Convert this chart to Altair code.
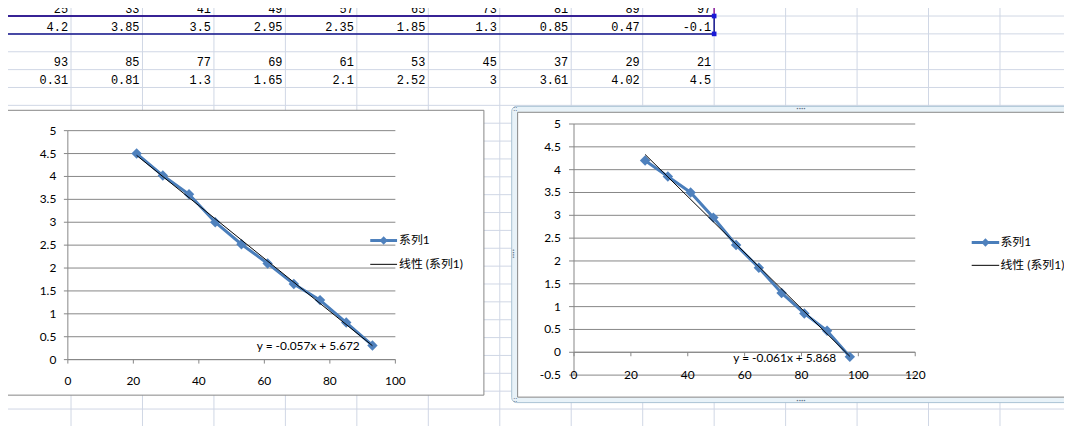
import altair as alt
import pandas as pd

# ---------------- values typed in the worksheet ----------------
x_b = [25, 33, 41, 49, 57, 65, 73, 81, 89, 97]
y_b = [4.2, 3.85, 3.5, 2.95, 2.35, 1.85, 1.3, 0.85, 0.47, -0.1]
x_a = [93, 85, 77, 69, 61, 53, 45, 37, 29, 21]
y_a = [0.31, 0.81, 1.3, 1.65, 2.1, 2.52, 3, 3.61, 4.02, 4.5]

# ---------------- axis tick values ----------------
x_ticks_a = [0, 20, 40, 60, 80, 100]
y_ticks_a = [0, 0.5, 1, 1.5, 2, 2.5, 3, 3.5, 4, 4.5, 5]
x_ticks_b = [0, 20, 40, 60, 80, 100, 120]
y_ticks_b = [-0.5, 0, 0.5, 1, 1.5, 2, 2.5, 3, 3.5, 4, 4.5, 5]

# ---------------- texts ----------------
legend_labels = ["系列1", "线性 (系列1)"]
equations = ["y = -0.057x + 5.672", "y = -0.061x + 5.868"]

UI_FONT = "Lato, 'Noto Sans CJK SC', sans-serif"
CELL_FONT = "'Liberation Mono', 'DejaVu Sans Mono', monospace"
GRID = "#868686"
SHEET_GRID = "#D0D7E5"
BLUE = "#4A7EBB"
MARK_BLUE = "#4F81BD"
HANDLE = "#5B7186"

one = pd.DataFrame({"a": [0]})

# ================= worksheet =================
scol = alt.Scale(domain=[0, 15], range=[-8.5, 1071.5], nice=False, zero=False)
srow = alt.Scale(domain=[0, 24], range=[-11.5, 420.5], nice=False, zero=False)

sheet_rows = [x_b, y_b, None, x_a, y_a]
cells = []
for r, vals in enumerate(sheet_rows):
    if vals is None:
        continue
    for c, v in enumerate(vals):
        cells.append({"c": c + 1, "r": r + 1, "t": f"{v:g}"})
cells = pd.DataFrame(cells)

vlines = alt.Chart(pd.DataFrame({"c": list(range(1, 15))})).mark_rule(
    color=SHEET_GRID, strokeWidth=1
).encode(
    x=alt.X("c:Q", scale=scol, axis=None),
    y=alt.YDatum(0, scale=srow, axis=None),
    y2=alt.Y2Datum(24),
)
hlines = alt.Chart(pd.DataFrame({"r": list(range(1, 24))})).mark_rule(
    color=SHEET_GRID, strokeWidth=1
).encode(
    y=alt.Y("r:Q", scale=srow, axis=None),
    x=alt.XDatum(0, scale=scol, axis=None),
    x2=alt.X2Datum(15),
)
cell_text = alt.Chart(cells).mark_text(
    font=CELL_FONT, fontSize=12, align="right", baseline="alphabetic",
    dx=-3, dy=-3.2, color="black"
).encode(
    x=alt.X("c:Q", scale=scol, axis=None),
    y=alt.Y("r:Q", scale=srow, axis=None),
    text="t:N",
)
purple_box = alt.Chart(one).mark_rect(
    fill=None, stroke="#8B1C9C", strokeWidth=1.5
).encode(
    x=alt.XDatum(0, scale=scol, axis=None), x2=alt.X2Datum(10),
    y=alt.YDatum(0, scale=srow, axis=None), y2=alt.Y2Datum(1),
)
blue_box = alt.Chart(one).mark_rect(
    fill=None, stroke="#14148C", strokeWidth=1.5
).encode(
    x=alt.XDatum(0, scale=scol, axis=None), x2=alt.X2Datum(10),
    y=alt.YDatum(1, scale=srow, axis=None), y2=alt.Y2Datum(2),
)
handles = alt.Chart(pd.DataFrame({"c": [0, 0, 10, 10], "r": [1, 2, 1, 2]})).mark_square(
    size=22, color="#1A1AD8", opacity=1
).encode(
    x=alt.X("c:Q", scale=scol, axis=None),
    y=alt.Y("r:Q", scale=srow, axis=None),
)
sheet = alt.layer(vlines, hlines, cell_text, purple_box, blue_box, handles)


# ================= chart panels =================
def legend_layers(x0, x1, xt, ys):
    layers = []
    layers.append(alt.Chart(one).mark_rule(color=BLUE, strokeWidth=3).encode(
        x=alt.value(x0), x2=alt.value(x1), y=alt.value(ys[0])))
    layers.append(alt.Chart(one).mark_point(
        shape="diamond", filled=True, size=70, color=MARK_BLUE, opacity=1
    ).encode(x=alt.value((x0 + x1) / 2), y=alt.value(ys[0])))
    layers.append(alt.Chart(one).mark_rule(color="black", strokeWidth=1).encode(
        x=alt.value(x0), x2=alt.value(x1), y=alt.value(ys[1])))
    for i, lab in enumerate(legend_labels):
        layers.append(alt.Chart(pd.DataFrame({"t": [lab]})).mark_text(
            font=UI_FONT, fontSize=12, align="left", baseline="middle", color="black"
        ).encode(x=alt.value(xt), y=alt.value(ys[i]), text="t:N"))
    return layers


def axis_layers(sx, sy, xticks, yticks, x_tick_len, y_tick_len,
                x_lab_anchor, x_lab_dy, y_lab_dx):
    """Axis lines, ticks and labels drawn through the panel's own scales."""
    xt = pd.DataFrame({"v": xticks, "t": [f"{v:g}" for v in xticks]})
    yt = pd.DataFrame({"v": yticks, "t": [f"{v:g}" for v in yticks]})
    x_dom = alt.Chart(one).mark_rule(color=GRID, strokeWidth=1).encode(
        x=alt.XDatum(xticks[0], scale=sx, axis=None), x2=alt.X2Datum(xticks[-1]),
        y=alt.YDatum(0, scale=sy, axis=None),
    )
    y_dom = alt.Chart(one).mark_rule(color=GRID, strokeWidth=1).encode(
        y=alt.YDatum(yticks[0], scale=sy, axis=None), y2=alt.Y2Datum(yticks[-1]),
        x=alt.XDatum(0, scale=sx, axis=None),
    )
    x_tk = alt.Chart(xt).mark_rule(color=GRID, strokeWidth=1, y2Offset=x_tick_len).encode(
        x=alt.X("v:Q", scale=sx, axis=None),
        y=alt.YDatum(0, scale=sy, axis=None), y2=alt.Y2Datum(0),
    )
    y_tk = alt.Chart(yt).mark_rule(color=GRID, strokeWidth=1, x2Offset=-y_tick_len).encode(
        y=alt.Y("v:Q", scale=sy, axis=None),
        x=alt.XDatum(0, scale=sx, axis=None), x2=alt.X2Datum(0),
    )
    x_lb = alt.Chart(xt).mark_text(
        font=UI_FONT, fontSize=12, align="center", baseline="middle",
        dy=x_lab_dy, color="black"
    ).encode(
        x=alt.X("v:Q", scale=sx, axis=None),
        y=alt.YDatum(x_lab_anchor, scale=sy, axis=None),
        text="t:N",
    )
    y_lb = alt.Chart(yt).mark_text(
        font=UI_FONT, fontSize=12, align="right", baseline="middle",
        dx=y_lab_dx, color="black"
    ).encode(
        y=alt.Y("v:Q", scale=sy, axis=None),
        x=alt.XDatum(0, scale=sx, axis=None),
        text="t:N",
    )
    return [x_dom, y_dom, x_tk, y_tk, x_lb, y_lb]


def panel(xv, yv, sx, sy, xticks, yticks, axis_kw, eq, eq_xy, frame_layers, leg):
    df = pd.DataFrame({"x": xv, "y": yv})
    grid = alt.Chart(pd.DataFrame({"v": yticks})).mark_rule(
        color=GRID, strokeWidth=1
    ).encode(
        y=alt.Y("v:Q", scale=sy, axis=None),
        x=alt.XDatum(xticks[0], scale=sx, axis=None),
        x2=alt.X2Datum(xticks[-1]),
    )
    line = alt.Chart(df).mark_line(color=BLUE, strokeWidth=3).encode(
        x=alt.X("x:Q", scale=sx, axis=None),
        y=alt.Y("y:Q", scale=sy, axis=None),
    )
    pts = alt.Chart(df).mark_point(
        shape="diamond", filled=True, size=110, color=MARK_BLUE, opacity=1
    ).encode(
        x=alt.X("x:Q", scale=sx, axis=None),
        y=alt.Y("y:Q", scale=sy, axis=None),
    )
    trend = alt.Chart(df).transform_regression("x", "y").mark_line(
        color="black", strokeWidth=1
    ).encode(
        x=alt.X("x:Q", scale=sx, axis=None),
        y=alt.Y("y:Q", scale=sy, axis=None),
    )
    eq_text = alt.Chart(pd.DataFrame({"t": [eq]})).mark_text(
        font=UI_FONT, fontSize=12, align="center", baseline="middle", color="black"
    ).encode(
        x=alt.XDatum(eq_xy[0], scale=sx, axis=None),
        y=alt.YDatum(eq_xy[1], scale=sy, axis=None),
        text="t:N",
    )
    return alt.layer(*frame_layers, grid,
                     *axis_layers(sx, sy, xticks, yticks, **axis_kw),
                     line, pts, trend, eq_text, *legend_layers(*leg))


# ---- panel A (left chart) ----
sx1 = alt.Scale(domain=[0, 100], range=[60.3, 390.3], nice=False, zero=False)
sy1 = alt.Scale(domain=[0, 5], range=[352.7, 122], nice=False, zero=False)
frame1 = [alt.Chart(one).mark_rect(fill="white", stroke=GRID, strokeWidth=1).encode(
    x=alt.value(-0.5), x2=alt.value(479.5), y=alt.value(101.5), y2=alt.value(388.5))]
panel_a = panel(
    x_a, y_a, sx1, sy1, x_ticks_a, y_ticks_a,
    dict(x_tick_len=4, y_tick_len=4, x_lab_anchor=y_ticks_a[0], x_lab_dy=21.3,
         y_lab_dx=-11.6),
    equations[0], (73.4, 0.30), frame1,
    (365, 392, 394, [232.7, 256.7]),
)

# ---- panel B (right chart, selected) ----
sx2 = alt.Scale(domain=[0, 120], range=[570.3, 914.1], nice=False, zero=False)
sy2 = alt.Scale(domain=[-0.5, 5], range=[368.3, 115.3], nice=False, zero=False)
frame2 = [
    alt.Chart(one).mark_rect(fill="#E8F2F8", stroke="#A9C2D4", strokeWidth=1,
                             cornerRadius=5).encode(
        x=alt.value(507.5), x2=alt.value(1090), y=alt.value(97.5), y2=alt.value(396)),
    alt.Chart(one).mark_rect(fill="white", stroke=GRID, strokeWidth=1).encode(
        x=alt.value(513.5), x2=alt.value(1090), y=alt.value(103.5), y2=alt.value(390.5)),
    alt.Chart(pd.DataFrame({"t": ["····"]})).mark_text(
        font=UI_FONT, fontSize=9, color=HANDLE, baseline="middle"
    ).encode(x=alt.value(799), y=alt.value(99.5), text="t:N"),
    alt.Chart(pd.DataFrame({"t": ["····"]})).mark_text(
        font=UI_FONT, fontSize=9, color=HANDLE, baseline="middle"
    ).encode(x=alt.value(799), y=alt.value(393.5), text="t:N"),
    alt.Chart(pd.DataFrame({"t": ["····"]})).mark_text(
        font=UI_FONT, fontSize=9, color=HANDLE, baseline="middle", angle=90
    ).encode(x=alt.value(510), y=alt.value(246), text="t:N"),
    alt.Chart(pd.DataFrame({"t": ["::"]})).mark_text(
        font=UI_FONT, fontSize=8, color=HANDLE, baseline="middle"
    ).encode(x=alt.value(511), y=alt.value(100), text="t:N"),
    alt.Chart(pd.DataFrame({"t": ["::"]})).mark_text(
        font=UI_FONT, fontSize=8, color=HANDLE, baseline="middle"
    ).encode(x=alt.value(511), y=alt.value(393), text="t:N"),
]
panel_b = panel(
    x_b, y_b, sx2, sy2, x_ticks_b, y_ticks_b,
    dict(x_tick_len=4, y_tick_len=5, x_lab_anchor=y_ticks_b[0], x_lab_dy=0.4,
         y_lab_dx=-13.3),
    equations[1], (74.1, -0.12), frame2,
    (971, 998.7, 1000, [234.7, 257.7]),
)

chart = alt.layer(sheet, panel_a, panel_b).resolve_scale(
    x="independent", y="independent"
).properties(
    width=1064, height=418, padding=0,
    autosize=alt.AutoSizeParams(type="none"),
    background="white",
).configure_view(stroke=None)

chart.save("out.html", embed_options={"renderer": "svg", "actions": False})
